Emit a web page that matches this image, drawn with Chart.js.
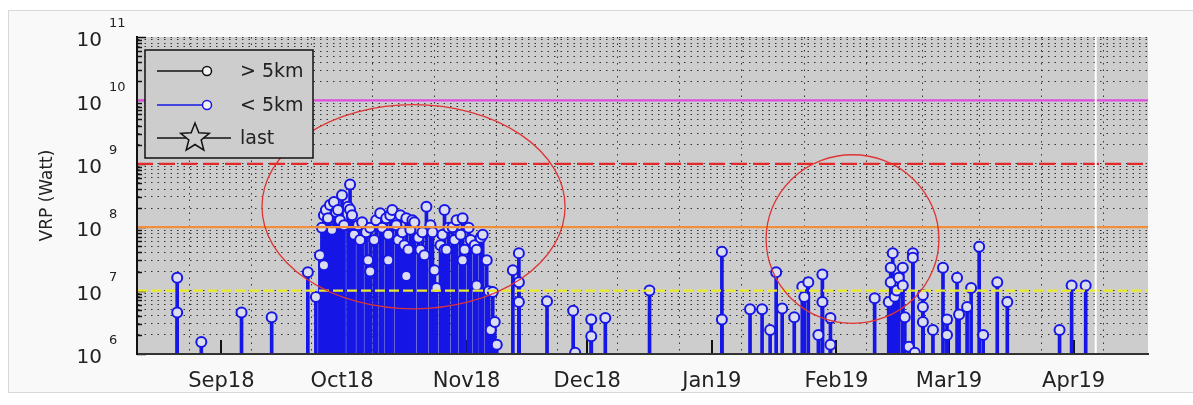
<!DOCTYPE html>
<html>
<head>
<meta charset="utf-8">
<script src="https://cdn.jsdelivr.net/npm/chart.js@4.4.1/dist/chart.umd.min.js"></script>
<style>
  body { margin: 0; background: #fff; }
  #frame { position: absolute; left: 8px; top: 10px; width: 1190px; height: 381px; border: 1px solid #d8d8d8; background: #f9f9f9; }
  #wrap { position: absolute; left: 0; top: 0; width: 1193px; height: 405px; }
</style>
</head>
<body>
<div id="frame"></div>
<div id="wrap"><canvas id="chart" width="1193" height="405"></canvas></div>
<script>
// time axis
const axisStart = '2018-08-11';
const axisEnd = '2019-04-19T12';
const tickDates = ['2018-09-01', '2018-10-01', '2018-11-01', '2018-12-01', '2019-01-01', '2019-02-01', '2019-03-01', '2019-04-01'];
const tickLabels = ['Sep18', 'Oct18', 'Nov18', 'Dec18', 'Jan19', 'Feb19', 'Mar19', 'Apr19'];
const gridDates = ['2018-08-16', '2018-09-01', '2018-09-16', '2018-10-01', '2018-10-16', '2018-11-01', '2018-11-16',
  '2018-12-01', '2018-12-16', '2019-01-01', '2019-01-16', '2019-02-01', '2019-02-16', '2019-03-01', '2019-03-16',
  '2019-04-01', '2019-04-16'];
const lastUpdate = '2019-04-06T12';

// VRP events < 5km (date, Watt)
const nearDates = [
  '2018-08-21', '2018-08-21', '2018-08-27', '2018-09-06', '2018-09-13T12', '2018-09-22T12', '2018-09-24T12',
  '2018-09-25T12', '2018-09-26', '2018-09-26T12', '2018-09-26T12', '2018-09-27', '2018-09-27T12', '2018-09-28',
  '2018-09-28T12', '2018-09-29', '2018-09-29T12', '2018-09-30', '2018-09-30T12', '2018-10-01', '2018-10-01T12',
  '2018-10-02T12', '2018-10-03', '2018-10-03', '2018-10-03T12', '2018-10-04', '2018-10-05', '2018-10-05T12',
  '2018-10-06', '2018-10-07', '2018-10-07T12', '2018-10-08', '2018-10-08', '2018-10-09', '2018-10-09T12',
  '2018-10-10T12', '2018-10-11', '2018-10-12', '2018-10-12T12', '2018-10-12T12', '2018-10-13', '2018-10-13T12',
  '2018-10-14T12', '2018-10-15', '2018-10-15T12', '2018-10-16', '2018-10-16T12', '2018-10-17', '2018-10-17',
  '2018-10-17T12', '2018-10-18', '2018-10-18T12', '2018-10-19', '2018-10-20', '2018-10-20T12', '2018-10-21',
  '2018-10-21T12', '2018-10-22', '2018-10-23', '2018-10-23T12', '2018-10-24', '2018-10-24T12', '2018-10-25T12',
  '2018-10-26', '2018-10-26T12', '2018-10-26T12', '2018-10-27', '2018-10-27T12', '2018-10-28T12', '2018-10-29',
  '2018-10-29T12', '2018-10-30T12', '2018-10-31', '2018-10-31', '2018-10-31T12', '2018-11-01T12', '2018-11-02',
  '2018-11-03', '2018-11-03T12', '2018-11-03T12', '2018-11-04T12', '2018-11-05', '2018-11-06', '2018-11-06T12',
  '2018-11-07', '2018-11-07T12', '2018-11-08', '2018-11-08T12',
  '2018-11-12T12', '2018-11-14', '2018-11-14', '2018-11-14', '2018-11-21', '2018-11-27T12', '2018-11-28',
  '2018-12-02', '2018-12-02', '2018-12-05T12', '2018-12-16T12',
  '2019-01-03T12', '2019-01-03T12', '2019-01-10T12', '2019-01-13T12', '2019-01-15T12', '2019-01-17',
  '2019-01-18T12', '2019-01-21T12', '2019-01-23T12', '2019-01-24', '2019-01-25', '2019-01-27T12',
  '2019-01-28T12', '2019-01-28T12', '2019-01-30T12', '2019-01-30T12',
  '2019-02-10T12', '2019-02-14', '2019-02-14T12', '2019-02-14T12', '2019-02-15', '2019-02-15T12', '2019-02-16',
  '2019-02-16T12', '2019-02-17T12', '2019-02-17T12', '2019-02-18', '2019-02-19', '2019-02-20', '2019-02-20',
  '2019-02-20T12', '2019-02-22T12', '2019-02-22T12', '2019-02-22T12', '2019-02-25', '2019-02-27T12',
  '2019-02-28T12', '2019-02-28T12',
  '2019-03-03', '2019-03-03T12', '2019-03-05T12', '2019-03-06T12', '2019-03-08T12', '2019-03-09T12',
  '2019-03-13', '2019-03-15T12', '2019-03-28T12', '2019-03-31T12', '2019-04-04'
];
const nearVRP = [
  1.6e7, 4.5e6, 1.55e6, 4.5e6, 3.8e6, 1.95e7, 7.9e6,
  3.6e7, 9.8e7, 1.55e8, 2.5e7, 1.86e8, 1.38e8, 2.24e8,
  9.1e7, 2.5e8, 1.74e8, 1.86e8, 1.29e8, 3.2e8, 1.07e8,
  2.1e8, 4.7e8, 1.9e8, 1.55e8, 7.6e7, 1.07e8, 6.3e7,
  1.2e8, 8.3e7, 3.0e7, 9.8e7, 2.0e7, 6.3e7, 1.29e8,
  1.66e8, 9.8e7, 1.38e8, 7.6e7, 3.0e7, 1.55e8, 1.86e8,
  1.07e8, 6.3e7, 1.55e8, 8.3e7, 5.2e7, 1.38e8, 1.7e7,
  4.4e7, 9.1e7, 1.29e8, 1.2e8, 6.8e7, 4.4e7, 8.3e7,
  3.6e7, 2.1e8, 1.07e8, 8.3e7, 2.1e7, 1.1e7, 5.2e7,
  7.6e7, 1.86e8, 4.4e7, 4.4e7, 9.8e7, 1.0e8, 6.3e7,
  1.29e8, 7.6e7, 1.38e8, 3.0e7, 4.4e7, 9.8e7, 6.3e7,
  5.2e7, 4.4e7, 1.2e7, 6.8e7, 7.6e7, 3.0e7, 9.8e6,
  2.4e6, 9.5e6, 3.2e6, 1.4e6,
  2.1e7, 3.9e7, 1.35e7, 6.6e6, 6.8e6, 4.8e6, 1.05e6,
  3.5e6, 1.9e6, 3.7e6, 1.0e7,
  4.1e7, 3.5e6, 5.1e6, 5.1e6, 2.4e6, 1.95e7,
  5.2e6, 3.8e6, 1.15e7, 7.9e6, 1.35e7, 2.0e6,
  1.8e7, 6.6e6, 3.7e6, 1.4e6,
  7.6e6, 6.6e6, 2.3e7, 1.35e7, 3.9e7, 8.0e6, 1.0e7,
  1.6e7, 2.3e7, 1.2e7, 3.8e6, 1.3e6, 3.9e7, 3.3e7,
  1.05e6, 8.5e6, 5.5e6, 3.2e6, 2.4e6, 2.3e7,
  3.5e6, 2.0e6,
  1.6e7, 4.2e6, 5.5e6, 1.1e7, 4.9e7, 2.0e6,
  1.35e7, 6.6e6, 2.4e6, 1.2e7, 1.2e7
];

// alert levels (Watt)
const alertLevels = [1e7, 1e8, 1e9, 1e10];

// circled periods: centre date, centre VRP, half width (days), half height (decades)
const circledCenters = ['2018-10-18T19', '2019-02-05'];
const circledVRP = [2.1e8, 6.5e7];
const circledDays = [37.7, 21.5];
const circledDecades = [1.61, 1.33];

const alertStyles = [
  { color: '#eaea2a', dash: [10, 4] },
  { color: '#ef8f3c', dash: [] },
  { color: '#e22a2a', dash: [16, 6] },
  { color: '#e04ce0', dash: [] }
];
const blue = '#1616e6';
const plotGray = '#cdcdcd';

Chart.defaults.font.family = '"DejaVu Sans", sans-serif';

function dayOf(s) {
  const [d, h] = s.split('T');
  const [Y, M, D] = d.split('-').map(Number);
  return (Date.UTC(Y, M - 1, D, h ? +h : 0) - Date.UTC(2018, 8, 1)) / 864e5;
}

const xMin = dayOf(axisStart);
const xMax = dayOf(axisEnd);
const tickDays = tickDates.map(dayOf);

const plotBackground = {
  id: 'plotBackground',
  beforeDraw(chart) {
    const { ctx, chartArea: a } = chart;
    ctx.save();
    ctx.fillStyle = plotGray;
    ctx.fillRect(a.left, a.top, a.right - a.left, a.bottom - a.top);
    ctx.restore();
  }
};

const innerTicks = {
  id: 'innerTicks',
  beforeDatasetsDraw(chart) {
    const { ctx, scales: { x, y }, chartArea: a } = chart;
    ctx.save();
    ctx.strokeStyle = '#111';
    ctx.lineWidth = 1.5;
    y.ticks.forEach(t => {
      const p = Math.round(y.getPixelForValue(t.value)) + 0.5;
      ctx.beginPath();
      ctx.moveTo(a.left, p);
      ctx.lineTo(a.left + (t.major ? 9 : 5), p);
      ctx.stroke();
    });
    ctx.lineWidth = 2;
    tickDays.forEach(d => {
      const p = Math.round(x.getPixelForValue(d));
      ctx.beginPath();
      ctx.moveTo(p, a.bottom);
      ctx.lineTo(p, a.bottom - 14);
      ctx.stroke();
    });
    ctx.restore();
  }
};

const overlays = {
  id: 'overlays',
  afterDatasetsDraw(chart) {
    const { ctx, scales: { x, y }, chartArea: a } = chart;
    ctx.save();
    ctx.beginPath();
    ctx.rect(a.left, a.top, a.right - a.left, a.bottom - a.top);
    ctx.clip();
    // last update marker
    const lx = x.getPixelForValue(dayOf(lastUpdate));
    ctx.strokeStyle = '#fff';
    ctx.lineWidth = 2;
    ctx.beginPath();
    ctx.moveTo(lx, a.top);
    ctx.lineTo(lx, a.bottom);
    ctx.stroke();
    // circled periods
    ctx.strokeStyle = '#e03434';
    ctx.lineWidth = 1.3;
    circledCenters.forEach((c, i) => {
      const cd = dayOf(c);
      const cx = x.getPixelForValue(cd);
      const cy = y.getPixelForValue(circledVRP[i]);
      const rx = x.getPixelForValue(cd + circledDays[i]) - cx;
      const ry = cy - y.getPixelForValue(circledVRP[i] * Math.pow(10, circledDecades[i]));
      ctx.beginPath();
      ctx.ellipse(cx, cy, rx, ry, 0, 0, Math.PI * 2);
      ctx.stroke();
    });
    ctx.restore();
  }
};

function drawStar(ctx, cx, cy, ro, ri) {
  ctx.beginPath();
  for (let k = 0; k < 10; k++) {
    const r = k % 2 ? ri : ro;
    const ang = -Math.PI / 2 + k * Math.PI / 5;
    const px = cx + r * Math.cos(ang), py = cy + r * Math.sin(ang);
    k ? ctx.lineTo(px, py) : ctx.moveTo(px, py);
  }
  ctx.closePath();
}

const labelsAndLegend = {
  id: 'labelsAndLegend',
  afterDraw(chart) {
    const { ctx, scales: { y }, chartArea: a } = chart;
    ctx.save();
    ctx.fillStyle = '#222';
    // y tick labels as 10^n
    y.ticks.filter(t => t.major).forEach(t => {
      const p = y.getPixelForValue(t.value);
      const e = Math.round(Math.log10(t.value));
      ctx.font = '20px "DejaVu Sans"';
      ctx.textAlign = 'right';
      ctx.textBaseline = 'middle';
      ctx.fillText('10', 102, p + 4);
      ctx.font = '13px "DejaVu Sans"';
      ctx.textAlign = 'left';
      ctx.fillText(String(e), 109, p - 13);
    });
    // legend box
    const bx = a.left + 8, by = a.top + 13, bw = 168, bh = 108;
    ctx.fillStyle = plotGray;
    ctx.fillRect(bx, by, bw, bh);
    ctx.strokeStyle = '#111';
    ctx.lineWidth = 1.5;
    ctx.strokeRect(bx, by, bw, bh);
    const rows = [by + 21, by + 55, by + 88];
    const items = [
      { text: '> 5km', color: '#111', marker: 'circle' },
      { text: '< 5km', color: blue, marker: 'circle' },
      { text: 'last', color: '#111', marker: 'star' }
    ];
    items.forEach((it, i) => {
      const ry = rows[i];
      ctx.strokeStyle = it.color;
      ctx.lineWidth = 1.5;
      ctx.beginPath();
      ctx.moveTo(bx + 12, ry);
      ctx.lineTo(bx + (it.marker === 'star' ? 86 : 62), ry);
      ctx.stroke();
      if (it.marker === 'circle') {
        ctx.fillStyle = '#f4f4f4';
        ctx.beginPath();
        ctx.arc(bx + 62, ry, 4.5, 0, Math.PI * 2);
        ctx.fill();
        ctx.stroke();
      } else {
        ctx.fillStyle = plotGray;
        drawStar(ctx, bx + 50, ry, 15, 6.5);
        ctx.fill();
        ctx.stroke();
      }
      ctx.fillStyle = '#222';
      ctx.font = '19px "DejaVu Sans"';
      ctx.textAlign = 'left';
      ctx.textBaseline = 'middle';
      ctx.fillText(it.text, bx + 95, ry + 1);
    });
    ctx.restore();
  }
};

const stems = nearDates.map((d, i) => ({ x: dayOf(d), y: [1e6, nearVRP[i]] }));
const points = nearDates.map((d, i) => ({ x: dayOf(d), y: nearVRP[i] }));

const alertSets = alertLevels.map((v, i) => ({
  type: 'line',
  data: [{ x: xMin, y: v }, { x: xMax, y: v }],
  borderColor: alertStyles[i].color,
  borderDash: alertStyles[i].dash,
  borderWidth: 2.2,
  pointRadius: 0,
  order: 1
}));

new Chart(document.getElementById('chart'), {
  type: 'bar',
  data: {
    datasets: [
      {
        type: 'line',
        label: '< 5km',
        data: points,
        showLine: false,
        pointRadius: 5,
        pointBorderWidth: 2,
        pointBorderColor: blue,
        pointBackgroundColor: '#dcdcef',
        order: 2
      },
      {
        label: '< 5km stems',
        data: stems,
        backgroundColor: blue,
        borderWidth: 0,
        barThickness: 3,
        order: 3
      },
      ...alertSets
    ]
  },
  options: {
    responsive: false,
    animation: false,
    layout: { padding: { top: 37, right: 45, left: 0, bottom: 0 } },
    plugins: { legend: { display: false }, tooltip: { enabled: false } },
    scales: {
      x: {
        type: 'linear',
        min: xMin,
        max: xMax,
        offset: false,
        afterBuildTicks: s => { s.ticks = gridDates.map(d => ({ value: dayOf(d) })); },
        afterFit: s => { s.height = 51; },
        grid: { color: '#333', lineWidth: 1, drawTicks: false },
        border: { display: true, color: '#333', width: 2, dash: [1.5, 5], z: 1 },
        ticks: {
          autoSkip: false,
          maxRotation: 0,
          padding: 15,
          color: '#222',
          font: { size: 21 },
          callback: v => {
            const i = tickDays.indexOf(v);
            return i >= 0 ? tickLabels[i] : '';
          }
        }
      },
      y: {
        type: 'logarithmic',
        min: 1e6,
        max: 1e11,
        afterBuildTicks: s => {
          const t = [];
          for (let e = 6; e <= 11; e++) {
            for (let m = 1; m <= 9; m++) {
              const v = m * Math.pow(10, e);
              if (v <= 1e11) t.push({ value: v, major: m === 1 });
            }
          }
          s.ticks = t;
        },
        afterFit: s => { s.width = 137; },
        grid: { color: '#333', lineWidth: 1, drawTicks: false },
        border: { display: true, color: '#111', width: 2, dash: [1.5, 5], z: 1 },
        ticks: { display: false },
        title: { display: true, text: 'VRP (Watt)', color: '#222', font: { size: 17 }, padding: { top: 37, bottom: 0 } }
      }
    }
  },
  plugins: [plotBackground, innerTicks, overlays, labelsAndLegend]
});
</script>
</body>
</html>
